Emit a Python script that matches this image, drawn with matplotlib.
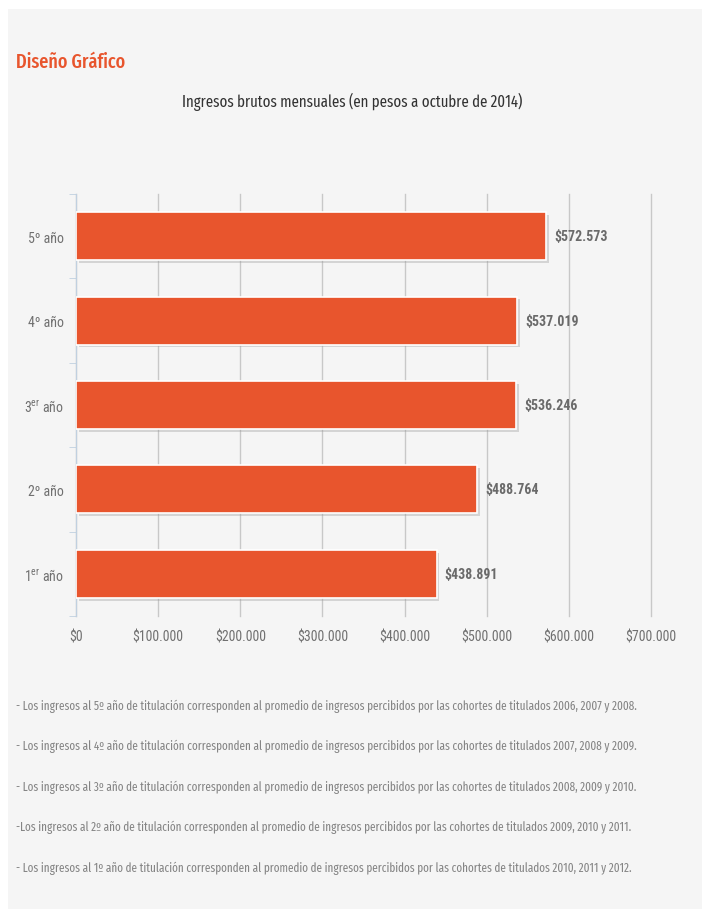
import matplotlib
matplotlib.use("Agg")
import matplotlib.pyplot as plt
import matplotlib.patheffects as pe

# data
categories = ["1$^{er}$ año", "2º año", "3$^{er}$ año", "4º año", "5º año"]
ingresos = [438891, 488764, 536246, 537019, 572573]
xticks = [0, 100000, 200000, 300000, 400000, 500000, 600000, 700000]
notas = [
    "- Los ingresos al 5º año de titulación corresponden al promedio de ingresos percibidos por las cohortes de titulados 2006, 2007 y 2008.",
    "- Los ingresos al 4º año de titulación corresponden al promedio de ingresos percibidos por las cohortes de titulados 2007, 2008 y 2009.",
    "- Los ingresos al 3º año de titulación corresponden al promedio de ingresos percibidos por las cohortes de titulados 2008, 2009 y 2010.",
    "-Los ingresos al 2º año de titulación corresponden al promedio de ingresos percibidos por las cohortes de titulados 2009, 2010 y 2011.",
    "- Los ingresos al 1º año de titulación corresponden al promedio de ingresos percibidos por las cohortes de titulados 2010, 2011 y 2012.",
]

axfont = ["Roboto Condensed", "DejaVu Sans"]
txtfont = ["Fira Sans Extra Condensed", "Fira Sans Condensed", "DejaVu Sans"]
plt.rcParams["font.family"] = axfont
plt.rcParams["mathtext.fontset"] = "custom"
plt.rcParams["mathtext.rm"] = "Roboto Condensed"
plt.rcParams["mathtext.it"] = "Roboto Condensed"
plt.rcParams["mathtext.bf"] = "Roboto Condensed:bold"

W, H = 712, 920
fig = plt.figure(figsize=(W / 100, H / 100), dpi=100, facecolor="white")

def fx(px):
    return px / W

def fy(py):
    return 1 - py / H

bg = fig.add_axes([fx(8), fy(910), 694 / W, 900 / H], zorder=-1)
bg.set_facecolor("#f5f5f5")
bg.set_xticks([])
bg.set_yticks([])
for s in bg.spines.values():
    s.set_visible(False)

ax = fig.add_axes([fx(76), fy(617), fx(651) - fx(76), fy(195) - fy(617)])
ax.set_facecolor("none")

bars = ax.barh(range(len(categories)), ingresos, height=0.57, color="#e8552d",
               edgecolor="white", linewidth=1.2, zorder=3)
for b in bars:
    b.set_path_effects([pe.SimplePatchShadow(offset=(2, -2), shadow_rgbFace="#999999", alpha=0.35),
                        pe.Normal()])

for i, v in enumerate(ingresos):
    ax.annotate("\\$" + f"{v:,}".replace(",", "."), (v, i), xytext=(6, 0), textcoords="offset points",
                va="center", ha="left", fontsize=10, fontweight="bold", color="#6a6a6a")

ax.set_xlim(0, 700000)
ax.set_ylim(-0.5, 4.5)
ax.set_xticks(xticks)
ax.set_xticklabels([("\\$" + f"{t:,}".replace(",", ".")) if t else "\\$0" for t in xticks])
ax.grid(axis="x", color="#c8c8c8", linewidth=1, zorder=0)
for gl in ax.get_xgridlines():
    gl.set_clip_on(False)
ax.tick_params(axis="x", length=0, labelsize=10, labelcolor="#707070", pad=10)

ax.set_yticks(range(len(categories)))
ax.set_yticklabels(categories)
ax.set_yticks([i + 0.5 for i in range(-1, len(categories))], minor=True)
ax.tick_params(axis="y", which="major", length=0, labelsize=10, labelcolor="#707070", pad=9)
ax.tick_params(axis="y", which="minor", length=5, color="#c0d0e0")

for s in ["top", "right", "bottom"]:
    ax.spines[s].set_visible(False)
ax.spines["left"].set_color("#c0d0e0")

fig.text(fx(16), fy(62), "Diseño Gráfico", fontsize=14.2, color="#e8552d", va="center", ha="left",
         family=txtfont, fontweight="medium")
fig.text(fx(352), fy(102), "Ingresos brutos mensuales (en pesos a octubre de 2014)",
         fontsize=11.6, color="#333333", va="center", ha="center", family=txtfont)

for i, n in enumerate(notas):
    fig.text(fx(16), fy(706 + i * 40.5), n, fontsize=8.75, color="#858585", va="center", ha="left",
             family=txtfont)

fig.savefig("out.png", dpi=100, facecolor="white")
